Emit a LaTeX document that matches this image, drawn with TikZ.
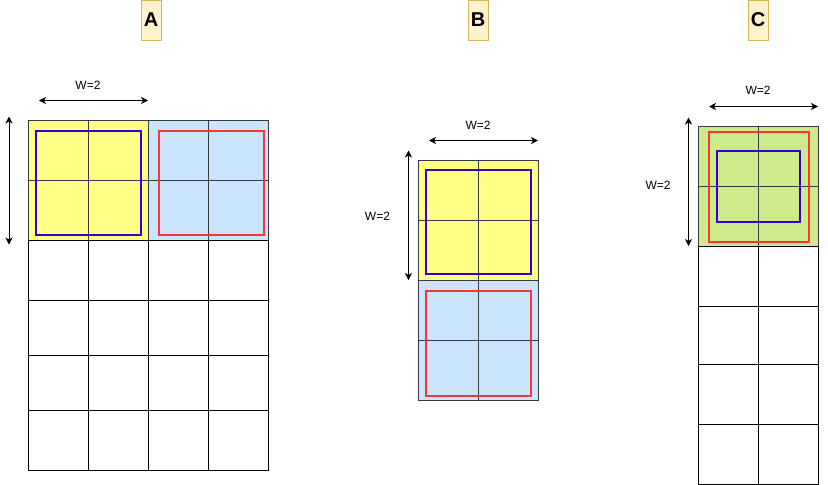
\documentclass[tikz,border=0pt]{standalone}
\usepackage{fontspec}
\setmainfont{Liberation Sans}
\usetikzlibrary{arrows.meta,positioning,calc}
\definecolor{cellyel}{HTML}{FFFF88}
\definecolor{cellblu}{HTML}{CCE5FF}
\definecolor{cellgrn}{HTML}{CDEB8B}
\definecolor{gridln}{HTML}{36393D}
\definecolor{winblu}{HTML}{3700CC}
\definecolor{winred}{HTML}{FF3333}
\definecolor{tagfill}{HTML}{FFF2CC}
\definecolor{tagline}{HTML}{D6B656}
\tikzset{>={Stealth[length=7pt,width=7pt,inset=2pt]},
  tag/.style={draw=tagline, fill=tagfill, line width=1pt, minimum width=20pt, minimum height=40pt, inner sep=0pt, font=\bfseries\fontsize{20}{24}\selectfont},
  dim/.style={font=\fontsize{12}{14}\selectfont, inner sep=0pt},
  win/.style={line width=2pt},
  cell/.style={draw, line width=1pt}}

\begin{document}
\begin{tikzpicture}[x=1pt, y=-1pt]
  \useasboundingbox (0,0) rectangle (828,485);
  % panel tags
  \node[tag] (tagA) at (151,20) {A};
  \node[tag] (tagB) at (478,20) {B};
  \node[tag] (tagC) at (758,20) {C};

  % panel A: 4 columns, W=2 windows side by side
  \fill[cellyel] (28,120) rectangle (148,240);
  \fill[cellblu] (148,120) rectangle (268,240);
  \foreach \c in {0,...,3}
    \foreach \t/\b in {120/180,180/240}
      \draw[cell, gridln] (28+60*\c,\t) rectangle (88+60*\c,\b);
  \foreach \c in {0,...,3}
    \foreach \t/\b in {240/300,300/355,355/410,410/470}
      \draw[cell] (28+60*\c,\t) rectangle (88+60*\c,\b);
  \draw[win, winblu] (35.5,130.5) rectangle (141,234.5);
  \draw[win, winred] (158.5,130.5) rectangle (263.5,234.5);
  \coordinate (aL) at (39,100.5);
  \coordinate (aR) at (148,100.5);
  \coordinate (aT) at (9,116.5);
  \coordinate (aB) at (9,244.5);
  \draw[<->, line width=1pt] (aL) -- (aR);
  \draw[<->, line width=1pt] (aT) -- (aB);
  \node[dim] (wA) at (88,85) {W=2};

  % panel B: 2 columns, windows stacked
  \fill[cellyel] (418,160) rectangle (538,280);
  \fill[cellblu] (418,280) rectangle (538,400);
  \foreach \c in {0,1}
    \foreach \t/\b in {160/220,220/280,280/340,340/400}
      \draw[cell, gridln] (418+60*\c,\t) rectangle (478+60*\c,\b);
  \draw[win, winblu] (425.5,169.5) rectangle (531,274);
  \draw[win, winred] (425.5,290.5) rectangle (531,395.5);
  \coordinate (bL) at (429,140.5);
  \coordinate (bR) at (538,140.5);
  \coordinate (bT) at (408.5,150.5);
  \coordinate (bB) at (408.5,280);
  \draw[<->, line width=1pt] (bL) -- (bR);
  \draw[<->, line width=1pt] (bT) -- (bB);
  \node[dim] (wBh) at (478,125) {W=2};
  \node[dim] (wBv) at (377.5,216) {W=2};

  % panel C: 2 columns, windows nested
  \fill[cellgrn] (698,126) rectangle (818,246);
  \foreach \c in {0,1}
    \foreach \t/\b in {126/186,186/246}
      \draw[cell, gridln] (698+60*\c,\t) rectangle (758+60*\c,\b);
  \foreach \c in {0,1}
    \foreach \t/\b in {246/306,306/364,364/424,424/484}
      \draw[cell] (698+60*\c,\t) rectangle (758+60*\c,\b);
  \draw[win, winred] (708.5,131.5) rectangle (808.5,242);
  \draw[win, winblu] (717,151) rectangle (800,222);
  \coordinate (cL) at (709,106.5);
  \coordinate (cR) at (818,106.5);
  \coordinate (cT) at (688.5,117.5);
  \coordinate (cB) at (688.5,246);
  \draw[<->, line width=1pt] (cL) -- (cR);
  \draw[<->, line width=1pt] (cT) -- (cB);
  \node[dim] (wCh) at (758,90.5) {W=2};
  \node[dim] (wCv) at (658,185.5) {W=2};
\end{tikzpicture}
\end{document}
